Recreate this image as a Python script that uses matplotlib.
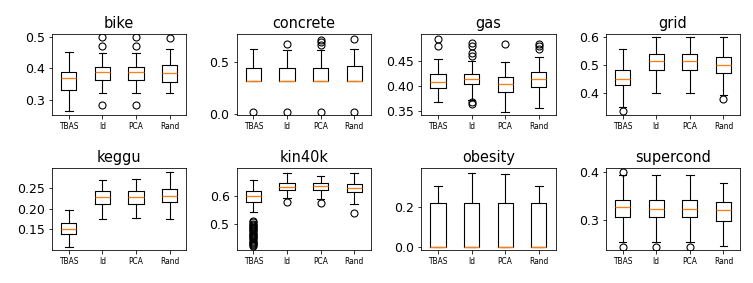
import matplotlib
matplotlib.use("Agg")
import matplotlib.pyplot as plt

methods = ["TBAS", "Id", "PCA", "Rand"]
datasets = ["bike", "concrete", "gas", "grid", "keggu", "kin40k", "obesity", "supercond"]

# per dataset: lists over methods (TBAS, Id, PCA, Rand)
bike_whislo = [0.262, 0.322, 0.322, 0.322]
bike_q1 = [0.332, 0.363, 0.363, 0.355]
bike_med = [0.368, 0.388, 0.388, 0.385]
bike_q3 = [0.388, 0.406, 0.406, 0.410]
bike_whishi = [0.452, 0.451, 0.451, 0.463]
bike_fliers = [[], [0.500, 0.472, 0.283], [0.500, 0.472, 0.283], [0.497]]

concrete_whislo = [0.318, 0.318, 0.318, 0.318]
concrete_q1 = [0.318, 0.318, 0.318, 0.318]
concrete_med = [0.320, 0.320, 0.320, 0.320]
concrete_q3 = [0.444, 0.448, 0.448, 0.464]
concrete_whishi = [0.627, 0.620, 0.620, 0.627]
concrete_fliers = [[0.02], [0.676, 0.02], [0.719, 0.700, 0.663, 0.02], [0.729, 0.02]]

gas_whislo = [0.368, 0.372, 0.349, 0.357]
gas_q1 = [0.397, 0.404, 0.389, 0.399]
gas_med = [0.408, 0.415, 0.404, 0.415]
gas_q3 = [0.424, 0.424, 0.418, 0.429]
gas_whishi = [0.455, 0.450, 0.449, 0.459]
gas_fliers = [[0.4947, 0.480], [0.487, 0.481, 0.466, 0.460, 0.368, 0.365],
              [0.485], [0.485, 0.480, 0.475]]

grid_whislo = [0.349, 0.400, 0.400, 0.393]
grid_q1 = [0.426, 0.480, 0.480, 0.470]
grid_med = [0.449, 0.512, 0.512, 0.500]
grid_q3 = [0.480, 0.538, 0.538, 0.529]
grid_whishi = [0.557, 0.600, 0.600, 0.600]
grid_fliers = [[0.334], [], [], [0.377]]

keggu_whislo = [0.108, 0.174, 0.178, 0.174]
keggu_q1 = [0.139, 0.211, 0.212, 0.217]
keggu_med = [0.151, 0.228, 0.228, 0.231]
keggu_q3 = [0.165, 0.242, 0.243, 0.248]
keggu_whishi = [0.198, 0.269, 0.272, 0.289]
keggu_fliers = [[], [], [], []]

kin40k_whislo = [0.545, 0.593, 0.590, 0.573]
kin40k_q1 = [0.580, 0.621, 0.621, 0.615]
kin40k_med = [0.600, 0.632, 0.636, 0.629]
kin40k_q3 = [0.618, 0.648, 0.646, 0.644]
kin40k_whishi = [0.657, 0.681, 0.670, 0.683]
kin40k_fliers = [[0.511, 0.507, 0.503, 0.499, 0.495, 0.491, 0.487, 0.483, 0.479,
                  0.475, 0.471, 0.467, 0.463, 0.459, 0.455, 0.451, 0.447, 0.443,
                  0.439, 0.435, 0.431, 0.427, 0.422],
                 [0.579], [0.574], [0.542]]

obesity_whislo = [0.0, 0.0, 0.0, 0.0]
obesity_q1 = [0.0, 0.0, 0.0, 0.0]
obesity_med = [0.0, 0.0, 0.0, 0.0]
obesity_q3 = [0.219, 0.219, 0.219, 0.219]
obesity_whishi = [0.308, 0.376, 0.368, 0.308]
obesity_fliers = [[], [], [], []]

supercond_whislo = [0.253, 0.253, 0.253, 0.245]
supercond_q1 = [0.306, 0.306, 0.306, 0.298]
supercond_med = [0.327, 0.324, 0.324, 0.321]
supercond_q3 = [0.341, 0.341, 0.341, 0.338]
supercond_whishi = [0.395, 0.395, 0.395, 0.377]
supercond_fliers = [[0.400, 0.244], [0.244], [0.244], []]

ylims = {
    "bike": (0.249, 0.5106), "concrete": (-0.016, 0.775), "gas": (0.342, 0.5046),
    "grid": (0.318, 0.611), "keggu": (0.100, 0.298), "kin40k": (0.41, 0.698),
    "obesity": (-0.017, 0.397), "supercond": (0.237, 0.4085),
}
yticks = {
    "bike": [0.3, 0.4, 0.5], "concrete": [0.0, 0.5], "gas": [0.35, 0.40, 0.45],
    "grid": [0.4, 0.5, 0.6], "keggu": [0.15, 0.20, 0.25], "kin40k": [0.5, 0.6],
    "obesity": [0.0, 0.2], "supercond": [0.3, 0.4],
}

g = globals()
fig, axes = plt.subplots(2, 4, figsize=(753 / 72, 283 / 72), dpi=72)
fig.subplots_adjust(left=0.069, right=0.983, top=0.880, bottom=0.117,
                    wspace=0.373, hspace=0.65)

for ax, name in zip(axes.flat, datasets):
    stats = []
    for i, m in enumerate(methods):
        stats.append(dict(
            label=m,
            whislo=g[name + "_whislo"][i], q1=g[name + "_q1"][i],
            med=g[name + "_med"][i], q3=g[name + "_q3"][i],
            whishi=g[name + "_whishi"][i], fliers=g[name + "_fliers"][i],
        ))
    ax.bxp(stats, showfliers=True,
           flierprops=dict(marker="o", markersize=7, markerfacecolor="none",
                           markeredgecolor="black", markeredgewidth=1.1),
           boxprops=dict(linewidth=1.1), whiskerprops=dict(linewidth=1.1),
           capprops=dict(linewidth=1.1),
           medianprops=dict(linewidth=1.3, color="C1", zorder=3))
    ax.set_title(name, fontsize=14.5)
    ax.set_ylim(*ylims[name])
    ax.set_yticks(yticks[name])
    ax.tick_params(axis="x", labelsize=7.5)
    ax.tick_params(axis="y", labelsize=12.5)

fig.savefig("out.png", dpi=72)
